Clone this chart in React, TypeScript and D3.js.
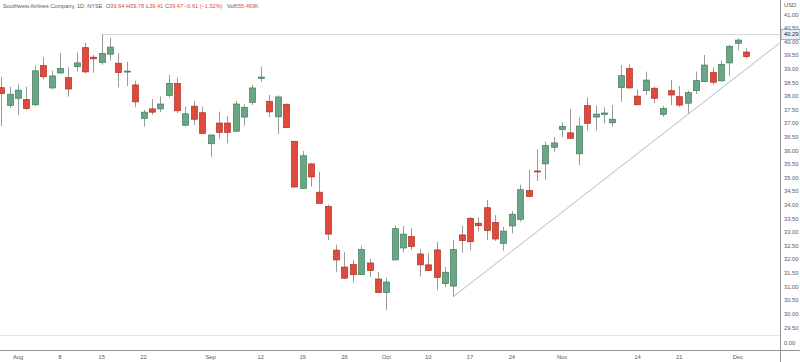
import React from 'react';
import * as d3 from 'd3';

// daily bars, Southwest Airlines (NYSE)
const dates = [
  '2022-07-28', '2022-07-29',
  '2022-08-01', '2022-08-02', '2022-08-03', '2022-08-04', '2022-08-05',
  '2022-08-08', '2022-08-09', '2022-08-10', '2022-08-11', '2022-08-12',
  '2022-08-15', '2022-08-16', '2022-08-17', '2022-08-18', '2022-08-19',
  '2022-08-22', '2022-08-23', '2022-08-24', '2022-08-25', '2022-08-26',
  '2022-08-29', '2022-08-30', '2022-08-31', '2022-09-01', '2022-09-02',
  '2022-09-06', '2022-09-07', '2022-09-08', '2022-09-09',
  '2022-09-12', '2022-09-13', '2022-09-14', '2022-09-15', '2022-09-16',
  '2022-09-19', '2022-09-20', '2022-09-21', '2022-09-22', '2022-09-23',
  '2022-09-26', '2022-09-27', '2022-09-28', '2022-09-29', '2022-09-30',
  '2022-10-03', '2022-10-04', '2022-10-05', '2022-10-06', '2022-10-07',
  '2022-10-10', '2022-10-11', '2022-10-12', '2022-10-13', '2022-10-14',
  '2022-10-17', '2022-10-18', '2022-10-19', '2022-10-20', '2022-10-21',
  '2022-10-24', '2022-10-25', '2022-10-26', '2022-10-27', '2022-10-28',
  '2022-10-31', '2022-11-01', '2022-11-02', '2022-11-03', '2022-11-04',
  '2022-11-07', '2022-11-08', '2022-11-09', '2022-11-10', '2022-11-11',
  '2022-11-14', '2022-11-15', '2022-11-16', '2022-11-17', '2022-11-18',
  '2022-11-21', '2022-11-22', '2022-11-23', '2022-11-25',
  '2022-11-28', '2022-11-29', '2022-11-30', '2022-12-01', '2022-12-02',
];

const opens = [
  38.33, 37.68, 37.94, 37.9, 37.7, 39.14, 38.32, 38.87, 38.7, 39.1,
  39.8, 39.45, 39.26, 39.56, 39.23, 38.93, 38.43, 37.2, 37.55, 37.55,
  38.04, 38.48, 36.95, 37.65, 37.41, 36.27, 37.03, 37.03, 36.73, 37.25,
  37.79, 38.67, 37.83, 37.26, 37.72, 36.36, 34.63, 35.53, 34.49, 33.96,
  32.36, 31.74, 31.83, 31.46, 31.89, 31.3, 30.8, 32.0, 32.44, 32.86,
  32.22, 31.82, 32.37, 31.13, 31.04, 32.92, 33.53, 33.35, 33.92, 33.38,
  32.61, 33.25, 33.49, 34.55, 35.27, 35.53, 36.14, 36.79, 36.67, 35.9,
  37.67, 37.25, 37.35, 37.04, 38.34, 39.04, 38.02, 38.22, 38.31, 37.35,
  38.22, 38.0, 37.76, 38.22, 38.55, 38.89, 38.58, 39.24, 39.96, 39.64,
];
const highs = [
  38.73, 38.37, 38.45, 38.37, 39.15, 39.45, 38.95, 39.6, 39.08, 39.62,
  39.98, 39.53, 40.29, 40.16, 39.6, 39.28, 38.58, 37.51, 37.91, 38.01,
  38.8, 38.7, 37.63, 37.84, 37.63, 36.6, 37.45, 37.3, 37.84, 37.72,
  38.43, 39.1, 38.06, 38.05, 37.75, 36.37, 36.0, 35.55, 35.23, 34.03,
  32.56, 32.29, 32.0, 32.52, 32.04, 31.56, 31.34, 33.27, 33.25, 33.17,
  32.39, 32.25, 32.67, 31.75, 32.73, 33.26, 33.57, 33.57, 34.2, 33.65,
  33.22, 33.79, 34.77, 35.31, 36.07, 36.35, 36.52, 37.06, 37.55, 37.23,
  37.96, 37.67, 37.61, 37.69, 39.16, 39.19, 38.26, 38.92, 38.37, 37.66,
  38.61, 38.39, 38.22, 38.92, 39.53, 39.08, 39.32, 39.9, 40.14, 39.78,
];
const lows = [
  36.92, 37.59, 37.32, 37.51, 37.66, 38.64, 38.27, 38.84, 38.0, 38.92,
  38.85, 38.88, 39.17, 39.32, 38.34, 38.39, 37.61, 36.9, 37.33, 37.43,
  37.96, 37.4, 36.92, 36.96, 36.63, 35.79, 36.47, 36.29, 36.72, 36.93,
  37.69, 38.55, 37.24, 36.63, 36.85, 34.67, 34.62, 34.69, 34.07, 32.73,
  31.55, 31.3, 31.18, 31.45, 31.37, 30.79, 30.16, 31.99, 32.27, 32.37,
  31.39, 31.6, 30.9, 31.0, 30.65, 32.27, 32.36, 33.04, 32.73, 32.7,
  32.34, 32.98, 33.41, 34.32, 34.9, 34.94, 35.98, 36.52, 36.46, 35.49,
  36.76, 36.76, 37.02, 36.9, 37.81, 38.3, 37.69, 38.06, 37.76, 37.26,
  37.69, 37.63, 37.39, 38.1, 38.54, 38.45, 38.57, 38.77, 39.69, 39.41,
];
const closes = [
  38.11, 38.09, 38.24, 37.56, 38.95, 38.73, 38.76, 39.04, 38.28, 39.24,
  38.91, 39.39, 39.59, 39.82, 38.89, 38.94, 37.81, 37.43, 37.43, 37.73,
  38.49, 37.48, 37.37, 37.17, 36.65, 36.59, 36.69, 36.69, 37.73, 37.61,
  38.32, 38.72, 37.44, 37.99, 36.86, 34.68, 35.83, 35.05, 34.08, 32.95,
  32.0, 31.33, 31.46, 32.38, 31.61, 30.8, 31.19, 33.15, 32.95, 32.49,
  31.82, 31.61, 31.36, 31.55, 32.38, 32.71, 32.67, 33.26, 33.08, 32.77,
  33.06, 33.68, 34.58, 34.33, 35.24, 36.2, 36.3, 36.91, 36.47, 36.92,
  37.02, 37.36, 37.4, 37.17, 38.77, 38.32, 37.7, 38.61, 37.94, 37.57,
  38.06, 37.69, 38.15, 38.59, 39.16, 38.53, 39.19, 39.85, 40.08, 39.47,
];

const tickDates = [
  '2022-08-01', '2022-08-08', '2022-08-15', '2022-08-22', '2022-09-01',
  '2022-09-12', '2022-09-19', '2022-09-26', '2022-10-03', '2022-10-10',
  '2022-10-17', '2022-10-24', '2022-11-01', '2022-11-14', '2022-11-21',
  '2022-12-01',
];
const tickLabels = [
  'Aug', '8', '15', '22', 'Sep', '12', '19', '26', 'Oct', '10', '17', '24',
  'Nov', '14', '21', 'Dec',
];

// drawings on the chart
const rayStart = { date: '2022-08-15', price: 40.29 };
const trendStart = { date: '2022-10-13', price: 30.65 };
const trendEnd = { barsAfterStart: 39, price: 39.97 };

// legend line: [label, value]
const header = 'Southwest Airlines Company, 1D, NYSE';
const legendItems = [
  ['O', '39.64'],
  ['H', '39.78'],
  ['L', '39.41'],
  ['C', '39.47'],
  ['', '\u22120.61 (\u22121.52%)'],
  ['Vol', '655.469K'],
];
const legendX = [106, 126, 146, 165, 184, 227];

const W = 800;
const H = 362;
const axisX = 780;
const paneBottom = 335;
const timeAxisY = 350;
const font = "'Liberation Sans', Arial, sans-serif";
const up = '#6aa684';
const upEdge = '#3f7d5d';
const down = '#e0493c';
const downEdge = '#ad3126';
const wick = '#9b9b9b';
const textColor = '#555a66';

const App = () => {
  const x = d3.scaleLinear().domain([0, 93]).range([1.3, 779.7]);
  const y = d3.scaleLinear().domain([29.5, 41]).range([328, 15]);
  const fmt = d3.format('.2f');
  const yTicks = d3.range(29.5, 41.001, 0.5);

  const bars = dates.map((d, i) => ({
    i,
    o: opens[i],
    h: highs[i],
    l: lows[i],
    c: closes[i],
  }));

  const ti = dates.indexOf(trendStart.date);
  const trend = d3
    .line<{ i: number; p: number }>()
    .x(d => x(d.i))
    .y(d => y(d.p))([
    { i: ti, p: trendStart.price },
    { i: ti + trendEnd.barsAfterStart, p: trendEnd.price },
  ]);

  const rayY = Math.round(y(rayStart.price)) + 0.5;
  const rayX = x(dates.indexOf(rayStart.date));

  return (
    <>
      <style>{'body{margin:0;background:#fff}'}</style>
      <svg width={W} height={H} style={{ display: 'block' }} fontFamily={font}>
        <rect width={W} height={H} fill="#fff" />

        <defs>
          <clipPath id="pane">
            <rect x={0} y={0} width={axisX} height={paneBottom} />
          </clipPath>
        </defs>

        {/* legend */}
        <g fontSize={5.6}>
          <text x={3} y={8} fill={textColor}>{header}</text>
          {legendItems.map(([k, v], n) => (
            <text key={n} x={legendX[n]} y={8} fill={textColor}>
              {k}
              <tspan fill={down}>{v}</tspan>
            </text>
          ))}
        </g>

        <g clipPath="url(#pane)">
          {/* horizontal ray */}
          <line x1={rayX} x2={axisX} y1={rayY} y2={rayY} stroke="#d6d8dd" strokeWidth={1} />
          {/* trend line */}
          <path d={trend || ''} fill="none" stroke="#b4b7bd" strokeWidth={1} />

          {bars.map(b => {
            const cx = Math.round(x(b.i)) + 0.5;
            const isUp = b.c >= b.o;
            const top = y(Math.max(b.o, b.c));
            const bot = y(Math.min(b.o, b.c));
            return (
              <g key={b.i}>
                <line x1={cx} x2={cx} y1={y(b.h)} y2={y(b.l)} stroke={wick} strokeWidth={1} />
                <rect
                  x={cx - 3}
                  y={top}
                  width={6}
                  height={Math.max(bot - top, 1)}
                  fill={isUp ? up : down}
                  stroke={isUp ? upEdge : downEdge}
                  strokeWidth={0.7}
                />
              </g>
            );
          })}
        </g>

        {/* pane separator and axes */}
        <line x1={0} x2={axisX} y1={paneBottom + 0.5} y2={paneBottom + 0.5} stroke="#e3e5ea" />
        <line x1={0} x2={W} y1={timeAxisY + 0.5} y2={timeAxisY + 0.5} stroke="#8f939c" />
        <line x1={axisX + 0.5} x2={axisX + 0.5} y1={0} y2={H} stroke="#8f939c" />

        {/* price axis */}
        <g fontSize={5.8} fill={textColor}>
          <text x={784} y={5} dominantBaseline="middle">USD</text>
          {yTicks.map(t => (
            <text key={t} x={784} y={y(t)} dominantBaseline="middle">
              {fmt(t)}
            </text>
          ))}
          <text x={784} y={343} dominantBaseline="middle">0.00</text>
        </g>

        {/* ray price label */}
        <rect x={axisX + 1} y={rayY - 5} width={19} height={10} fill="#eef0f3" stroke="#7d818a" strokeWidth={0.6} />
        <text x={784} y={rayY} fontSize={5.8} fill="#1e222d" dominantBaseline="middle">
          {fmt(rayStart.price)}
        </text>

        {/* time axis */}
        <g fontSize={5.8} fill={textColor} textAnchor="middle">
          {tickDates.map((d, k) => (
            <text key={d} x={x(dates.indexOf(d))} y={357} dominantBaseline="middle">
              {tickLabels[k]}
            </text>
          ))}
        </g>
      </svg>
    </>
  );
};

export default App;
